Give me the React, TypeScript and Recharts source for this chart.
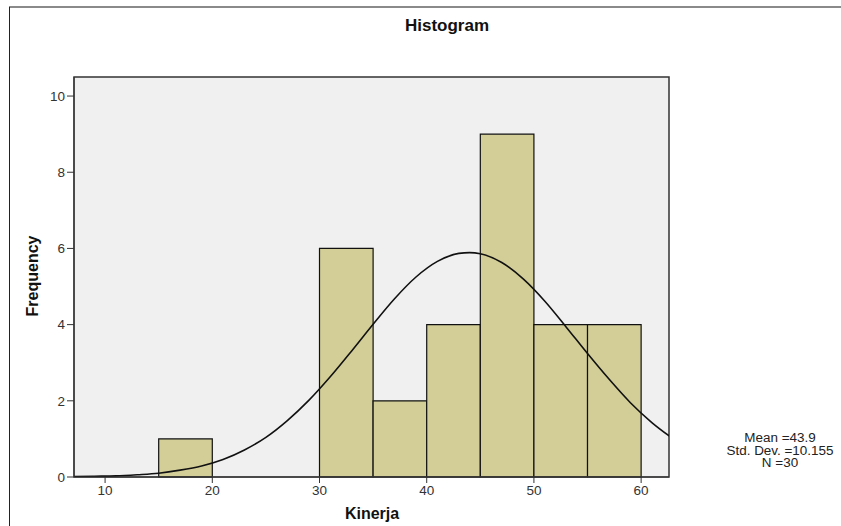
import React from "react";
import {
  ComposedChart,
  Line,
  XAxis,
  YAxis,
  ReferenceArea,
  CartesianGrid,
} from "recharts";

// histogram bins (Kinerja)
const binStart = [15, 30, 35, 40, 45, 50, 55];
const binEnd = [20, 35, 40, 45, 50, 55, 60];
const binCount = [1, 6, 2, 4, 9, 4, 4];

// normal curve
const curveX = [7, 9, 11, 13, 15, 17, 19, 21, 23, 25, 27, 29, 31, 33, 35, 37, 39, 41, 43, 44, 45, 47, 49, 51, 53, 55, 57, 59, 61, 63];
const curveY = [0.01, 0.02, 0.03, 0.06, 0.1, 0.18, 0.29, 0.46, 0.71, 1.04, 1.48, 2.01, 2.63, 3.31, 4.01, 4.68, 5.25, 5.66, 5.87, 5.89, 5.86, 5.63, 5.2, 4.62, 3.94, 3.24, 2.57, 1.95, 1.43, 1.0];

const xTicks = [10, 20, 30, 40, 50, 60];
const yTicks = [0, 2, 4, 6, 8, 10];

const curve = curveX.map((x, i) => ({ x, y: curveY[i] }));

const font = "'Liberation Sans', Arial, sans-serif";
const X_MIN = 7.1;
const X_MAX = 62.6;
const Y_MAX = 10.5;

export default function App() {
  return (
    <div
      style={{
        position: "absolute",
        left: 0,
        top: 0,
        width: 841,
        height: 526,
        background: "#fff",
        fontFamily: font,
        overflow: "hidden",
      }}
    >
      <div style={{ position: "absolute", left: 9, top: 6, width: 832, height: 2, background: "#8a8a8a" }} />
      <div style={{ position: "absolute", left: 8.5, top: 7, width: 1.5, height: 519, background: "#222" }} />
      <div
        style={{
          position: "absolute",
          left: 347,
          width: 200,
          top: 16,
          textAlign: "center",
          fontWeight: "bold",
          fontSize: 17,
          color: "#111",
        }}
      >
        Histogram
      </div>
      <div style={{ position: "absolute", left: 0, top: 0 }}>
        <ComposedChart
          width={841}
          height={526}
          data={curve}
          margin={{ top: 77, right: 172, bottom: 19, left: 34 }}
        >
          <CartesianGrid fill="#f0f0f0" horizontal={false} vertical={false} />
          <XAxis
            type="number"
            dataKey="x"
            domain={[X_MIN, X_MAX]}
            ticks={xTicks}
            allowDataOverflow
            height={30}
            tickSize={6}
            tick={{ fill: "#333", fontSize: 13.5, fontFamily: font }}
            stroke="#333"
          />
          <YAxis
            type="number"
            domain={[0, Y_MAX]}
            ticks={yTicks}
            allowDataOverflow
            width={40}
            tickSize={7}
            tickMargin={2}
            tick={{ fill: "#333", fontSize: 13.5, fontFamily: font }}
            stroke="#333"
          />
          {binCount.map((c, i) => (
            <ReferenceArea
              key={i}
              x1={binStart[i]}
              x2={binEnd[i]}
              y1={0}
              y2={c}
              fill="#d3ce97"
              fillOpacity={1}
              stroke="#111"
              strokeWidth={1.2}
            />
          ))}
          <ReferenceArea
            x1={X_MIN}
            x2={X_MAX}
            y1={0}
            y2={Y_MAX}
            fill="none"
            stroke="#333"
            strokeWidth={1.5}
          />
          <Line
            type="monotone"
            dataKey="y"
            stroke="#111"
            strokeWidth={1.6}
            dot={false}
            isAnimationActive={false}
          />
        </ComposedChart>
      </div>
      <div
        style={{
          position: "absolute",
          left: 272,
          width: 200,
          top: 505,
          textAlign: "center",
          fontWeight: "bold",
          fontSize: 16,
          color: "#111",
        }}
      >
        Kinerja
      </div>
      <div
        style={{
          position: "absolute",
          left: 33,
          top: 276,
          transform: "translate(-50%, -50%) rotate(-90deg)",
          fontWeight: "bold",
          fontSize: 16,
          color: "#111",
          whiteSpace: "nowrap",
        }}
      >
        Frequency
      </div>
      <div
        style={{
          position: "absolute",
          left: 700,
          width: 160,
          top: 432,
          textAlign: "center",
          fontSize: 12,
          lineHeight: "12.5px",
          color: "#222",
          whiteSpace: "nowrap",
          transform: "scaleX(1.12)",
          transformOrigin: "center",
        }}
      >
        <div>Mean =43.9</div>
        <div>Std. Dev. =10.155</div>
        <div>N =30</div>
      </div>
    </div>
  );
}
